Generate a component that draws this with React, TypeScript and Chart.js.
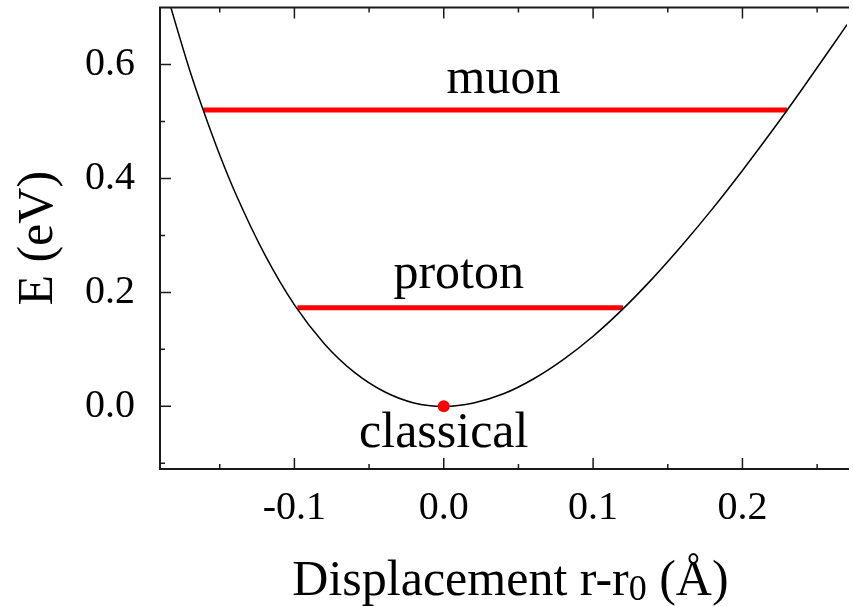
import { useEffect, useRef } from "react";
import { Chart, registerables } from "chart.js";

Chart.register(...registerables);

// Potential curve
const curveX = [-0.19, -0.17, -0.16, -0.15, -0.14, -0.12, -0.1, -0.08, -0.06, -0.04, -0.02, 0, 0.02, 0.04, 0.06, 0.08, 0.1, 0.12, 0.14, 0.16, 0.18, 0.2, 0.22, 0.24, 0.26, 0.27];
const curveY = [0.765, 0.589, 0.512, 0.441, 0.377, 0.267, 0.178, 0.11, 0.06, 0.026, 0.006, 0, 0.006, 0.022, 0.048, 0.082, 0.123, 0.171, 0.225, 0.284, 0.347, 0.414, 0.484, 0.557, 0.632, 0.67];

// Zero-point energy levels
const levelNames = ["muon", "proton"];
const levelEnergy = [0.52, 0.173];
const levelLeft = [-0.161, -0.098];
const levelRight = [0.23, 0.12];

// Classical minimum
const classicalX = [0];
const classicalY = [0];

// Text labels
const labelTexts = ["muon", "proton", "classical"];
const labelX = [0.04, 0.01, 0.0];
const labelY = [0.55, 0.207, -0.072];

// Ticks
const xMajor = [-0.1, 0, 0.1, 0.2];
const xMinor = [-0.15, -0.05, 0.05, 0.15, 0.25];
const yMajor = [0, 0.2, 0.4, 0.6];
const yMinor = [-0.1, 0.1, 0.3, 0.5];
const xRange = [-0.19, 0.27];
const yRange = [-0.11, 0.7];

const FONT = "'Liberation Serif', 'Times New Roman', serif";
const FRAME = "#1a1a1a";

const decorPlugin = {
  id: "decor",
  afterDatasetsDraw(chart: any) {
    const ctx = chart.ctx as CanvasRenderingContext2D;
    const xs = chart.scales.x;
    const ys = chart.scales.y;
    ctx.save();
    ctx.fillStyle = "#000";
    ctx.font = `50px ${FONT}`;
    ctx.textAlign = "center";
    ctx.textBaseline = "alphabetic";
    for (let i = 0; i < labelTexts.length; i++) {
      ctx.fillText(labelTexts[i], xs.getPixelForValue(labelX[i]), ys.getPixelForValue(labelY[i]));
    }
    ctx.restore();
  },
  afterDraw(chart: any) {
    const ctx = chart.ctx as CanvasRenderingContext2D;
    const { left, right, top, bottom } = chart.chartArea;
    const xs = chart.scales.x;
    const ys = chart.scales.y;
    ctx.save();
    ctx.strokeStyle = FRAME;
    ctx.lineWidth = 1.5;
    const major = 11;
    const minor = 5;
    ctx.beginPath();
    for (const v of xMajor) {
      const p = xs.getPixelForValue(v);
      ctx.moveTo(p, bottom); ctx.lineTo(p, bottom - major);
      ctx.moveTo(p, top); ctx.lineTo(p, top + major);
    }
    for (const v of xMinor) {
      const p = xs.getPixelForValue(v);
      ctx.moveTo(p, bottom); ctx.lineTo(p, bottom - minor);
      ctx.moveTo(p, top); ctx.lineTo(p, top + minor);
    }
    for (const v of yMajor) {
      const p = ys.getPixelForValue(v);
      ctx.moveTo(left, p); ctx.lineTo(left + major, p);
    }
    for (const v of yMinor) {
      const p = ys.getPixelForValue(v);
      ctx.moveTo(left, p); ctx.lineTo(left + minor, p);
    }
    ctx.stroke();
    ctx.lineWidth = 2;
    ctx.beginPath();
    ctx.moveTo(right + 2, top);
    ctx.lineTo(left, top);
    ctx.lineTo(left, bottom);
    ctx.lineTo(right + 2, bottom);
    ctx.stroke();

    // Axis titles
    ctx.fillStyle = "#000";
    ctx.textBaseline = "alphabetic";
    ctx.save();
    ctx.translate(52, (top + bottom) / 2);
    ctx.rotate(-Math.PI / 2);
    ctx.font = `50px ${FONT}`;
    ctx.textAlign = "center";
    ctx.fillText("E (eV)", 0, 0);
    ctx.restore();
    const main1 = "Displacement r-r";
    const sub = "0";
    const main2 = " (\u00C5)";
    ctx.font = `50px ${FONT}`;
    const w1 = ctx.measureText(main1).width;
    const w3 = ctx.measureText(main2).width;
    ctx.font = `36px ${FONT}`;
    const w2 = ctx.measureText(sub).width;
    const total = w1 + w2 + w3;
    const cx = (left + right) / 2 + 7;
    let x0 = cx - total / 2;
    const base = 595;
    ctx.textAlign = "left";
    ctx.font = `50px ${FONT}`;
    ctx.fillText(main1, x0, base);
    x0 += w1;
    ctx.font = `36px ${FONT}`;
    ctx.fillText(sub, x0, base + 5);
    x0 += w2;
    ctx.font = `50px ${FONT}`;
    ctx.fillText(main2, x0, base);
    ctx.restore();
  },
};

export default function App() {
  const ref = useRef<HTMLCanvasElement | null>(null);
  useEffect(() => {
    if (!ref.current) return;
    const datasets: any[] = [];
    datasets.push({
      label: "classical",
      data: classicalX.map((x, i) => ({ x, y: classicalY[i] })),
      showLine: false,
      pointRadius: 6,
      pointBackgroundColor: "#ff0000",
      pointBorderWidth: 0,
      order: 0,
    });
    datasets.push({
      label: "potential",
      data: curveX.map((x, i) => ({ x, y: curveY[i] })),
      borderColor: "#000",
      borderWidth: 1.5,
      pointRadius: 0,
      cubicInterpolationMode: "monotone",
      fill: false,
      order: 1,
    });
    levelNames.forEach((name, i) => {
      datasets.push({
        label: name,
        data: [
          { x: levelLeft[i], y: levelEnergy[i] },
          { x: levelRight[i], y: levelEnergy[i] },
        ],
        borderColor: "#ff0000",
        borderWidth: 5,
        borderCapStyle: "butt",
        pointRadius: 0,
        fill: false,
        order: 2,
      });
    });

    const chart = new Chart(ref.current, {
      type: "line",
      data: { datasets },
      options: {
        responsive: false,
        animation: false,
        layout: { padding: { top: 7.5, left: 0, right: 0, bottom: 0 } },
        plugins: { legend: { display: false }, tooltip: { enabled: false } },
        scales: {
          x: {
            type: "linear",
            min: xRange[0],
            max: xRange[1],
            border: { display: false },
            grid: { display: false, drawTicks: false },
            afterBuildTicks: (s: any) => {
              s.ticks = xMajor.map((v) => ({ value: v }));
            },
            afterFit: (s: any) => {
              s.height = 137;
              s.paddingLeft = 0;
              s.paddingRight = 0;
              s.paddingTop = 0;
              s.paddingBottom = 0;
            },
            ticks: {
              autoSkip: false,
              maxRotation: 0,
              padding: 15,
              color: "#000",
              font: { family: FONT, size: 40 },
              callback: (v: any) => Number(v).toFixed(1),
            },
          },
          y: {
            type: "linear",
            min: yRange[0],
            max: yRange[1],
            border: { display: false },
            grid: { display: false, drawTicks: false },
            afterBuildTicks: (s: any) => {
              s.ticks = yMajor.map((v) => ({ value: v }));
            },
            afterFit: (s: any) => {
              s.width = 160;
              s.paddingLeft = 0;
              s.paddingRight = 0;
              s.paddingTop = 0;
              s.paddingBottom = 0;
            },
            ticks: {
              autoSkip: false,
              padding: 25,
              color: "#000",
              font: { family: FONT, size: 40 },
              callback: (v: any) => Number(v).toFixed(1),
            },
          },
        },
      },
      plugins: [decorPlugin],
    });
    return () => chart.destroy();
  }, []);
  return (
    <div style={{ position: "absolute", left: 0, top: 0, width: 853, height: 606, background: "#fff" }}>
      <canvas ref={ref} width={853} height={606} style={{ display: "block" }} />
    </div>
  );
}
